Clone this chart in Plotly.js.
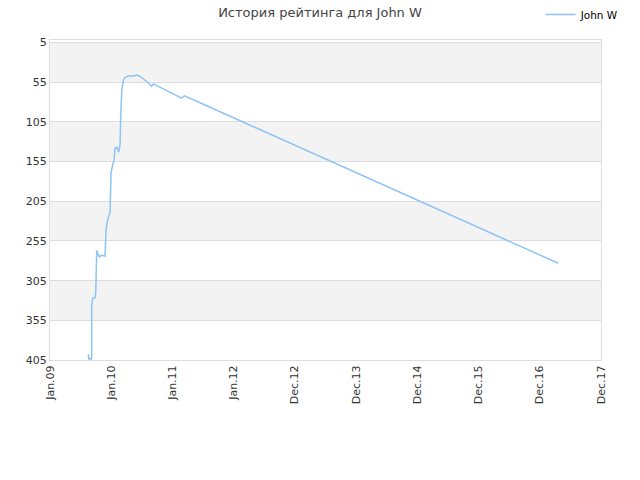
<!DOCTYPE html>
<html>
<head>
<meta charset="utf-8">
<script src="https://cdn.plot.ly/plotly-3.0.1.min.js"></script>
<style>html,body{margin:0;padding:0;background:#fff;}#chart{width:640px;height:480px;}</style>
</head>
<body>
<div id="chart"></div>
<script>
// x position in "tick units" (0 = Jan.09, 1 = Jan.10, ... 9 = Dec.17)
const xVals = [0.626,0.634,0.654,0.670,0.681,0.681,0.698,0.735,0.747,0.752,0.763,0.776,0.806,0.845,0.899,0.915,0.943,0.980,0.997,1.018,1.046,1.062,1.090,1.123,1.144,1.155,1.172,1.198,1.225,1.279,1.361,1.417,1.471,1.580,1.662,1.688,1.797,2.152,2.194,2.342,8.301];
const rating = [398,404,403,404,402,336,327,327,321,279,267,270,275,273,274,241,228,219,169,161,153,138,137,143,134,98,66,52,49,47,47,46,47.5,54,60,57,61,75,72,77,283];
const tickPos = [0,1,2,3,4,5,6,7,8,9];
const tickLabels = ["Jan.09","Jan.10","Jan.11","Jan.12","Dec.12","Dec.13","Dec.14","Dec.15","Dec.16","Dec.17"];
const yTicks = [5,55,105,155,205,255,305,355,405];
const seriesName = "John W";
const chartTitle = "История рейтинга для John W";

const shapes = [];
for (let i = 0; i < yTicks.length - 1; i += 2) {
  shapes.push({type:'rect', xref:'paper', yref:'y', x0:0, x1:1, y0:yTicks[i], y1:yTicks[i+1],
    fillcolor:'#f3f3f3', line:{width:0}, layer:'below'});
}

const trace = {
  x: xVals, y: rating, type:'scatter', mode:'lines', name: seriesName,
  line:{color:'#8ec4f4', width:1.5}, showlegend:true
};

const layout = {
  width:640, height:480,
  margin:{l:50, r:39, t:40, b:120, autoexpand:false},
  paper_bgcolor:'#fff', plot_bgcolor:'#fff',
  font:{family:'DejaVu Sans, sans-serif', size:11, color:'#333'},
  title:{text:chartTitle, x:0.5, xanchor:'center', y:0.983, yanchor:'top',
    font:{family:'DejaVu Sans, sans-serif', size:13, color:'#444'}},
  showlegend:true,
  legend:{x:1.043, xanchor:'right', y:1.125, yanchor:'top', font:{size:10.5, color:'#000'}, bgcolor:'rgba(0,0,0,0)'},
  xaxis:{range:[0,9], tickmode:'array', tickvals:tickPos, ticktext:tickLabels, tickangle:-90,
    showgrid:false, zeroline:false, showline:true, linecolor:'#dddddd', mirror:true,
    ticks:'', tickfont:{size:11, color:'#333'}},
  yaxis:{range:[405,1.7], tickmode:'array', tickvals:yTicks, showgrid:true, gridcolor:'#dddddd',
    zeroline:false, showline:true, linecolor:'#dddddd', mirror:true, ticks:'',
    tickfont:{size:11, color:'#333'}},
  shapes: shapes
};

Plotly.newPlot('chart', [trace], layout, {displayModeBar:false, staticPlot:true});
</script>
</body>
</html>
